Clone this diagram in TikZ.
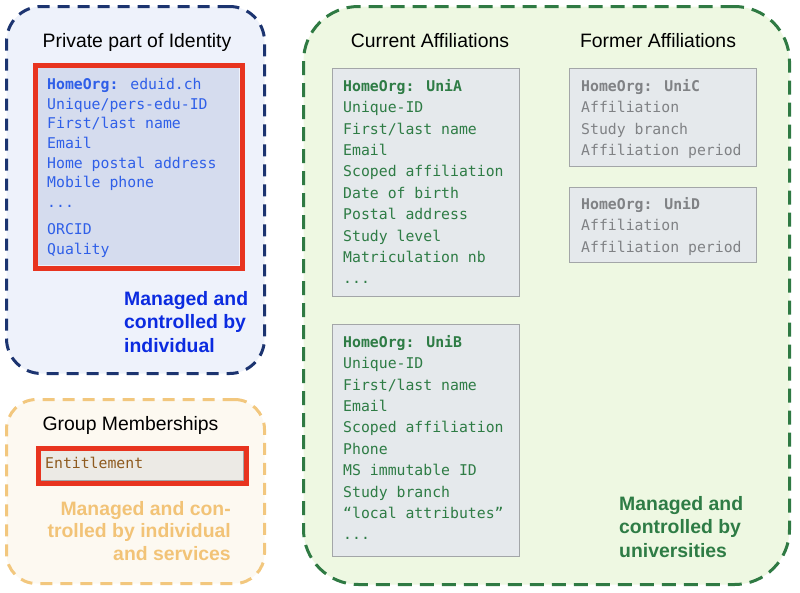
\documentclass[tikz,border=0pt]{standalone}
\usepackage{fontspec}
\setmainfont{Liberation Sans}
\newfontfamily\codefont{DejaVu Sans Mono}

\definecolor{navyline}{HTML}{1C3470}
\definecolor{bluefill}{HTML}{EEF2FB}
\definecolor{privtext}{HTML}{2F5FE8}
\definecolor{bluenote}{HTML}{0B2BE0}
\definecolor{privfill}{HTML}{D5DCEE}
\definecolor{framered}{HTML}{E8341F}
\definecolor{orangeline}{HTML}{F2C77E}
\definecolor{orangefill}{HTML}{FDF9F1}
\definecolor{orangenote}{HTML}{F2C377}
\definecolor{entfill}{HTML}{ECEAE5}
\definecolor{enttext}{HTML}{8E5A1E}
\definecolor{greenline}{HTML}{2F7A43}
\definecolor{greenfill}{HTML}{EEF8E2}
\definecolor{greennote}{HTML}{2E7C45}
\definecolor{boxfill}{HTML}{E5E9EC}
\definecolor{boxgray}{HTML}{A3A6A8}
\definecolor{formertext}{HTML}{808285}

\begin{document}
\begin{tikzpicture}[x=1pt, y=-1pt,
    area/.style={line width=3pt, dash pattern=on 12pt off 8pt, anchor=north west, inner sep=0pt},
    heading/.style={font=\fontsize{19.4}{23}\selectfont, anchor=base},
    attrs/.style={font=\codefont\fontsize{14.8}{21.4}\selectfont, align=left, anchor=north west, inner sep=0pt},
    attrbox/.style={draw=boxgray, fill=boxfill, line width=0.8pt, anchor=north west, inner sep=0pt},
    redframe/.style={draw=framered, line width=5pt, anchor=north west, inner sep=0pt},
    note/.style={font=\bfseries\fontsize{19.4}{23.5}\selectfont, inner sep=0pt}]
    \useasboundingbox (0,0) rectangle (800,592);

    % The three dashed areas
    \node[area, draw=navyline, fill=bluefill, rounded corners=35pt,
        minimum width=258pt, minimum height=367pt] (private) at (5,5) {};
    \node[area, draw=orangeline, fill=orangefill, rounded corners=30pt,
        minimum width=258pt, minimum height=184pt] (group) at (5,398) {};
    \node[area, draw=greenline, fill=greenfill, rounded corners=55pt,
        dash pattern=on 14pt off 8pt,
        minimum width=486pt, minimum height=578pt] (univ) at (302,5) {};

    % Headings
    \node[heading] (private title) at (137,47) {Private part of Identity};
    \node[heading] (group title) at (130.5,430) {Group Memberships};
    \node[heading] (current title) at (430,47) {Current Affiliations};
    \node[heading] (former title) at (658,47) {Former Affiliations};

    % Private identity attributes, framed in red
    \node[attrbox, draw=none, fill=privfill, minimum width=205pt, minimum height=201pt] (private box) at (34,64) {};
    \draw[boxgray, line width=0.8pt] ([yshift=-3pt]private box.north west) -- ([yshift=-3pt]private box.north east);
    \node[redframe, minimum width=207pt, minimum height=203pt] (private frame) at (32.5,62.5) {};
    \node[attrs, text=privtext, font=\codefont\fontsize{14.8}{19.7}\selectfont] (private attrs) at (47,78)
        {\textbf{HomeOrg:} eduid.ch\\ Unique/pers-edu-ID\\ First/last name\\ Email\\
         Home postal address\\ Mobile phone\\ ...\\[7.5pt] ORCID\\ Quality};

    % Group membership
    \node[attrbox, fill=entfill, minimum width=206pt, minimum height=33pt] (entitlement box) at (36.5,446.5) {};
    \node[redframe, minimum width=208pt, minimum height=35pt] (entitlement frame) at (35.5,445.5) {};
    \node[attrs, anchor=base west, text=enttext] (entitlement) at (45,468) {Entitlement};

    % Current affiliations
    \node[attrbox, minimum width=187pt, minimum height=228pt] (unia box) at (332,68) {};
    \node[attrs, text=greennote] (unia) at (343,79)
        {\textbf{HomeOrg: UniA}\\ Unique-ID\\ First/last name\\ Email\\ Scoped affiliation\\
         Date of birth\\ Postal address\\ Study level\\ Matriculation nb\\ ...};
    \node[attrbox, minimum width=187pt, minimum height=232pt] (unib box) at (332,324) {};
    \node[attrs, text=greennote] (unib) at (343,335)
        {\textbf{HomeOrg: UniB}\\ Unique-ID\\ First/last name\\ Email\\ Scoped affiliation\\
         Phone\\ MS immutable ID\\ Study branch\\ “local attributes”\\ ...};

    % Former affiliations
    \node[attrbox, minimum width=187pt, minimum height=98pt] (unic box) at (569,68) {};
    \node[attrs, text=formertext] (unic) at (581,79)
        {\textbf{HomeOrg: UniC}\\ Affiliation\\ Study branch\\ Affiliation period};
    \node[attrbox, minimum width=187pt, minimum height=75pt] (unid box) at (569,187) {};
    \node[attrs, text=formertext] (unid) at (581,197)
        {\textbf{HomeOrg: UniD}\\ Affiliation\\ Affiliation period};

    % Who manages what
    \node[note, text=bluenote, align=left, anchor=north west] (private note) at (124,291)
        {Managed and\\ controlled by\\ individual};
    \node[note, text=orangenote, align=right, anchor=north east,
        font=\bfseries\fontsize{19.4}{22.7}\selectfont] (group note) at (231,501)
        {Managed and con-\\ trolled by individual\\ and services};
    \node[note, text=greennote, align=left, anchor=north west] (univ note) at (619,496)
        {Managed and\\ controlled by\\ universities};
\end{tikzpicture}
\end{document}
